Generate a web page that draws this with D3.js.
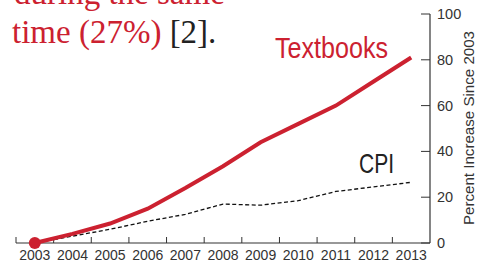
<!DOCTYPE html>
<html>
<head>
<meta charset="utf-8">
<script src="https://cdn.jsdelivr.net/npm/d3@7"></script>
<style>
  body { margin: 0; background: #fff; }
  svg { display: block; }
</style>
</head>
<body>
<svg id="chart" width="479" height="262"></svg>
<script>
// data
const years = [2003, 2004, 2005, 2006, 2007, 2008, 2009, 2010, 2011, 2012, 2013];
const textbooks = [0, 4, 8.5, 15, 24, 33.5, 44, 52, 60, 70.5, 81];
const cpi = [0, 3, 6, 9.5, 12.5, 17, 16.5, 18.5, 22.5, 24.5, 26.5];
const yTicks = [0, 20, 40, 60, 80, 100];

const red = "#cc2130";
const ink = "#333";

const svg = d3.select("#chart");

// schalen
const x = d3.scaleLinear().domain([2002.5, 2013.5]).range([16, 430]);
const y = d3.scaleLinear().domain([0, 100]).range([243, 14]);

// tekst linksboven (afgesneden alinea)
svg.append("text")
  .attr("x", 14).attr("y", 4)
  .attr("font-family", "Liberation Serif, serif")
  .attr("font-size", 33)
  .attr("fill", red)
  .text("during the same");

const para = svg.append("text")
  .attr("x", 12).attr("y", 43)
  .attr("font-family", "Liberation Serif, serif")
  .attr("font-size", 33);
para.append("tspan").attr("fill", red).text("time (27%) ");
para.append("tspan").attr("fill", "#222").text("[2].");

// x-as
const xAxis = svg.append("g").attr("transform", "translate(0,243)");
xAxis.append("line")
  .attr("x1", 16).attr("x2", 430)
  .attr("stroke", ink).attr("stroke-width", 1.2);
xAxis.selectAll(".tick")
  .data(years.map((d) => d - 0.5))
  .join("line")
  .attr("x1", (d) => x(d)).attr("x2", (d) => x(d))
  .attr("y1", 0).attr("y2", -6)
  .attr("stroke", ink).attr("stroke-width", 1);
xAxis.selectAll("text")
  .data(years)
  .join("text")
  .attr("x", (d) => x(d))
  .attr("y", 17)
  .attr("text-anchor", "middle")
  .attr("font-family", "Liberation Sans, Arial, sans-serif")
  .attr("font-size", 14)
  .attr("fill", ink)
  .text((d) => d);

// y-as rechts
const yAxis = svg.append("g").attr("transform", "translate(430,0)");
yAxis.append("line")
  .attr("y1", y(100)).attr("y2", y(0))
  .attr("stroke", ink).attr("stroke-width", 1.2);
yAxis.selectAll("line.tick")
  .data(yTicks)
  .join("line")
  .attr("class", "tick")
  .attr("x1", -9).attr("x2", 0)
  .attr("y1", (d) => y(d)).attr("y2", (d) => y(d))
  .attr("stroke", ink).attr("stroke-width", 1);
yAxis.selectAll("text")
  .data(yTicks)
  .join("text")
  .attr("x", 7)
  .attr("y", (d) => y(d) + 5)
  .attr("font-family", "Liberation Sans, Arial, sans-serif")
  .attr("font-size", 14.5)
  .attr("fill", ink)
  .text((d) => d);

svg.append("text")
  .attr("transform", "translate(474,128) rotate(-90)")
  .attr("text-anchor", "middle")
  .attr("font-family", "Liberation Sans, Arial, sans-serif")
  .attr("font-size", 15)
  .attr("fill", ink)
  .attr("textLength", 194)
  .attr("lengthAdjust", "spacingAndGlyphs")
  .text("Percent Increase Since 2003");

// lijnen
const line = (vals) =>
  d3.line().x((d, i) => x(years[i])).y((d) => y(d))(vals);

svg.append("path")
  .attr("d", line(cpi))
  .attr("fill", "none")
  .attr("stroke", "#111")
  .attr("stroke-width", 1.3)
  .attr("stroke-dasharray", "4,2.5");

svg.append("path")
  .attr("d", line(textbooks))
  .attr("fill", "none")
  .attr("stroke", red)
  .attr("stroke-width", 4);

svg.append("circle")
  .attr("cx", x(years[0]))
  .attr("cy", y(textbooks[0]))
  .attr("r", 6)
  .attr("fill", red);

// labels (smal gemaakt met textLength)
svg.append("text")
  .attr("x", 275).attr("y", 58)
  .attr("font-family", "Liberation Sans, Arial, sans-serif")
  .attr("font-size", 29)
  .attr("fill", red)
  .attr("textLength", 113)
  .attr("lengthAdjust", "spacingAndGlyphs")
  .text("Textbooks");

svg.append("text")
  .attr("x", 359).attr("y", 173)
  .attr("font-family", "Liberation Sans, Arial, sans-serif")
  .attr("font-size", 28)
  .attr("fill", "#222")
  .attr("textLength", 35)
  .attr("lengthAdjust", "spacingAndGlyphs")
  .text("CPI");
</script>
</body>
</html>
